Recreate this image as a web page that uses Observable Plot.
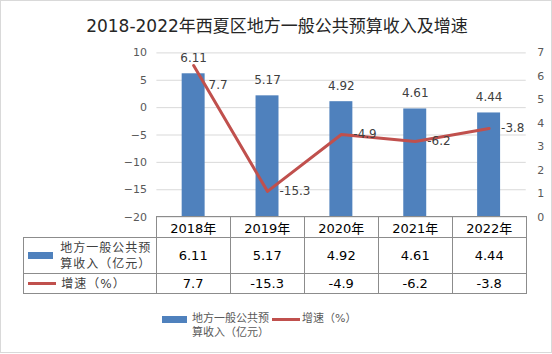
<!DOCTYPE html>
<html><head><meta charset="utf-8">
<script src="https://cdn.jsdelivr.net/npm/d3@7"></script>
<script src="https://cdn.jsdelivr.net/npm/@observablehq/plot@0.6"></script>
<style>
body{margin:0;background:#fff;}
#wrap{position:relative;width:550px;height:351px;border:1px solid #d9d9d9;overflow:hidden;font-family:"DejaVu Sans","Noto Sans CJK SC",sans-serif;}
#title{position:absolute;left:0;top:15px;width:552px;text-align:center;font-size:17px;line-height:20px;color:#262626;}
#plot{position:absolute;left:-1px;top:-1px;}
#tbl{position:absolute;left:22.3px;top:215px;border-collapse:collapse;table-layout:fixed;font-size:13px;color:#000;}
#tbl td{border:1px solid #8c8c8c;text-align:center;padding:0;white-space:nowrap;}
#tbl td.empty{border-top:none;border-left:none;}
#tbl td.lab{text-align:left;color:#404040;font-size:12px;letter-spacing:1px;}
.sw{display:inline-block;vertical-align:middle;}
.labtxt{display:inline-block;vertical-align:middle;line-height:16px;white-space:normal;}
#legend{position:absolute;left:161px;top:311px;display:flex;align-items:flex-start;font-size:11px;color:#595959;line-height:14px;}
</style></head>
<body>
<div id="wrap">
  <div id="title"></div>
  <div id="plot"></div>
  <table id="tbl"></table>
  <div id="legend"></div>
</div>
<script>
const titleText = "2018-2022年西夏区地方一般公共预算收入及增速";
const years = ["2018年","2019年","2020年","2021年","2022年"];
const revenue = [6.11, 5.17, 4.92, 4.61, 4.44];
const growth = [7.7, -15.3, -4.9, -6.2, -3.8];
const seriesNames = ["地方一般公共预算收入（亿元）", "增速（%）"];
const leftTicks = [-20, -15, -10, -5, 0, 5, 10];
const rightTicks = [0, 1, 2, 3, 4, 5, 6, 7];
const colors = ["#4F81BD", "#C0504D"];

const data = years.map((y, i) => ({year: y, revenue: revenue[i], growth: growth[i], i}));
const leftDomain = [-20, 10];
const rightDomain = [0, 7];
const toLeft = v => leftDomain[0] + (v - rightDomain[0]) * (leftDomain[1] - leftDomain[0]) / (rightDomain[1] - rightDomain[0]);
const toRight = v => rightDomain[0] + (v - leftDomain[0]) * (rightDomain[1] - rightDomain[0]) / (leftDomain[1] - leftDomain[0]);

document.getElementById("title").textContent = titleText;

const chart = Plot.plot({
  width: 552,
  height: 231,
  marginTop: 52.5,
  marginBottom: 14,
  marginLeft: 156.7,
  marginRight: 25.3,
  style: {fontFamily: '"DejaVu Sans","Noto Sans CJK SC",sans-serif', background: "transparent", overflow: "visible"},
  x: {type: "band", domain: years, paddingInner: 0.69, paddingOuter: 0.345, axis: null},
  y: {domain: leftDomain, axis: null},
  marks: [
    Plot.gridY(leftTicks, {stroke: "#d9d9d9", strokeOpacity: 1}),
    Plot.axisY(leftTicks, {anchor: "left", tickSize: 0, tickPadding: 10, fontSize: 11, fill: "#595959", label: null}),
    Plot.axisY(rightTicks.map(toLeft), {anchor: "right", tickSize: 0, tickPadding: 11, fontSize: 11, fill: "#595959", label: null, tickFormat: d => String(Math.round(toRight(d)))}),
    Plot.barY(data, {x: "year", y1: leftDomain[0], y2: d => toLeft(d.revenue), fill: colors[0]}),
    Plot.text(data, {x: "year", y: d => toLeft(d.revenue), text: d => d.revenue.toFixed(2), dy: -16, fontSize: 12, fill: "#404040"}),
    Plot.line(data, {x: "year", y: "growth", stroke: colors[1], strokeWidth: 3}),
    Plot.text(data.filter(d => d.i === 0), {x: "year", y: "growth", text: d => String(d.growth), dx: 15, dy: 20, textAnchor: "start", fontSize: 12, fill: "#404040"}),
    Plot.text(data.filter(d => d.i > 0), {x: "year", y: "growth", text: d => String(d.growth), dx: 12, textAnchor: "start", fontSize: 12, fill: "#404040"})
  ]
});
document.getElementById("plot").appendChild(chart);

// data table
const tbl = d3.select("#tbl");
const cols = tbl.append("colgroup");
cols.append("col").style("width", "132.4px");
years.forEach(() => cols.append("col").style("width", "74px"));
const r1 = tbl.append("tr").style("height", "21px");
r1.append("td").attr("class", "empty");
years.forEach(y => r1.append("td").text(y));
const r2 = tbl.append("tr").style("height", "36px");
const l2 = r2.append("td").attr("class", "lab");
l2.append("span").attr("class", "sw").style("width", "25px").style("height", "7px").style("background", colors[0]).style("margin", "0 7px 0 4px");
l2.append("span").attr("class", "labtxt").style("width", "93px").text(seriesNames[0]);
revenue.forEach(v => r2.append("td").text(v.toFixed(2)));
const r3 = tbl.append("tr").style("height", "20px");
const l3 = r3.append("td").attr("class", "lab");
l3.append("span").attr("class", "sw").style("width", "28px").style("height", "3px").style("background", colors[1]).style("margin", "0 5px 0 4px");
l3.append("span").attr("class", "labtxt").style("white-space", "nowrap").text(seriesNames[1]);
growth.forEach(v => r3.append("td").text(String(v)));

// legend
const lg = d3.select("#legend");
const i1 = lg.append("div").style("display", "flex").style("align-items", "flex-start");
i1.append("span").style("display", "inline-block").style("width", "25px").style("height", "7px").style("margin-top", "4px").style("background", colors[0]);
i1.append("span").style("display", "inline-block").style("width", "80px").style("margin-left", "5px").text(seriesNames[0]);
const i2 = lg.append("div").style("display", "flex").style("align-items", "flex-start");
i2.append("span").style("display", "inline-block").style("width", "28px").style("height", "3px").style("margin-top", "6px").style("background", colors[1]);
i2.append("span").style("display", "inline-block").style("margin-left", "2px").text(seriesNames[1]);
</script>
</body></html>
